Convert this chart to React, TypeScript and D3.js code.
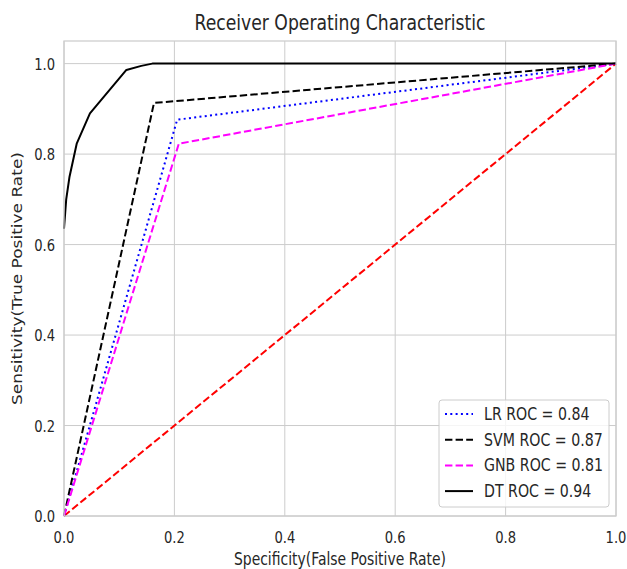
import React, { useEffect, useRef } from "react";
import * as d3 from "d3";

// ROC curves (false positive rate -> true positive rate)
const lrFpr = [0, 0.205, 1];
const lrTpr = [0, 0.876, 1];
const svmFpr = [0, 0.163, 1];
const svmTpr = [0, 0.913, 1];
const gnbFpr = [0, 0.208, 1];
const gnbTpr = [0, 0.823, 1];
const dtFpr = [0, 0.004, 0.01, 0.023, 0.047, 0.113, 0.14, 0.16, 1];
const dtTpr = [0.635, 0.7, 0.75, 0.823, 0.89, 0.986, 0.995, 1, 1];
const refFpr = [0, 1];
const refTpr = [0, 1];

const legendLabels = ["LR ROC = 0.84", "SVM ROC = 0.87", "GNB ROC = 0.81", "DT ROC = 0.94"];
const xTicks = [0, 0.2, 0.4, 0.6, 0.8, 1.0];
const yTicks = [0, 0.2, 0.4, 0.6, 0.8, 1.0];

const W = 627;
const H = 569;
const SX = 0.82; // the picture's text is horizontally squeezed
const FONT = "DejaVu Sans, sans-serif";
const INK = "#262626";

const App = () => {
  const svgRef = useRef<SVGSVGElement>(null);

  useEffect(() => {
    const margin = { top: 41, right: 11, bottom: 53, left: 64 };
    const width = W - margin.left - margin.right;
    const height = H - margin.top - margin.bottom;

    const svg = d3.select(svgRef.current);
    svg.selectAll("*").remove();
    svg.append("rect").attr("width", W).attr("height", H).attr("fill", "#fff");

    const g = svg.append("g").attr("transform", `translate(${margin.left},${margin.top})`);

    const x = d3.scaleLinear().domain([0, 1]).range([0, width]);
    const y = d3.scaleLinear().domain([0, 1.05]).range([height, 0]);

    // text helper: squeezed horizontally like the reference
    const label = (
      parent: any,
      tx: number,
      ty: number,
      text: string,
      size: number,
      anchor: string,
      rotate = 0
    ) =>
      parent
        .append("text")
        .attr("transform", `translate(${tx},${ty}) scale(${SX},1)${rotate ? ` rotate(${rotate})` : ""}`)
        .attr("text-anchor", anchor)
        .attr("font-family", FONT)
        .attr("font-size", size)
        .attr("fill", INK)
        .text(text);

    // grid
    g.append("g")
      .selectAll("line")
      .data(xTicks)
      .join("line")
      .attr("x1", (d) => x(d))
      .attr("x2", (d) => x(d))
      .attr("y1", 0)
      .attr("y2", height)
      .attr("stroke", "#cccccc")
      .attr("stroke-width", 1);
    g.append("g")
      .selectAll("line")
      .data(yTicks)
      .join("line")
      .attr("x1", 0)
      .attr("x2", width)
      .attr("y1", (d) => y(d))
      .attr("y2", (d) => y(d))
      .attr("stroke", "#cccccc")
      .attr("stroke-width", 1);

    // curves
    const series = [
      { fpr: refFpr, tpr: refTpr, color: "#ff0000", dash: "7.4,3.2" },
      { fpr: lrFpr, tpr: lrTpr, color: "#0000ff", dash: "2,3.3" },
      { fpr: svmFpr, tpr: svmTpr, color: "#000000", dash: "7.4,3.2" },
      { fpr: gnbFpr, tpr: gnbTpr, color: "#ff00ff", dash: "7.4,3.2" },
      { fpr: dtFpr, tpr: dtTpr, color: "#000000", dash: null as string | null },
    ];

    svg
      .append("defs")
      .append("clipPath")
      .attr("id", "plot-clip")
      .append("rect")
      .attr("x", -1)
      .attr("y", -1)
      .attr("width", width + 2)
      .attr("height", height + 2);

    const curves = g.append("g").attr("clip-path", "url(#plot-clip)");
    series.forEach((s) => {
      const pts: [number, number][] = s.fpr.map((f, i) => [x(f), y(s.tpr[i])]);
      curves
        .append("path")
        .attr("d", d3.line()(pts))
        .attr("fill", "none")
        .attr("stroke", s.color)
        .attr("stroke-width", 2)
        .attr("stroke-dasharray", s.dash)
        .attr("stroke-linejoin", "round");
    });

    // spines
    g.append("rect")
      .attr("width", width)
      .attr("height", height)
      .attr("fill", "none")
      .attr("stroke", "#cccccc")
      .attr("stroke-width", 1.25);

    // tick labels
    xTicks.forEach((t) => label(g, x(t), height + 27, d3.format(".1f")(t), 16, "middle"));
    yTicks.forEach((t) => label(g, -9, y(t) + 6, d3.format(".1f")(t), 16, "end"));

    // titles
    label(svg, margin.left + width / 2, 30, "Receiver Operating Characteristic", 21, "middle");
    label(svg, margin.left + width / 2, 565, "Specificity(False Positive Rate)", 17, "middle");
    label(svg, 22, margin.top + height / 2, "Sensitivity(True Positive Rate)", 17, "middle", -90);

    // legend
    const legendSeries = series.slice(1);
    const lg = svg.append("g").attr("transform", "translate(439,400)");
    lg.append("rect")
      .attr("width", 170)
      .attr("height", 107)
      .attr("rx", 3)
      .attr("fill", "#ffffff")
      .attr("fill-opacity", 0.8)
      .attr("stroke", "#cccccc")
      .attr("stroke-width", 1);
    legendLabels.forEach((name, i) => {
      const s = legendSeries[i];
      const cy = 14 + i * 25.7;
      lg.append("line")
        .attr("x1", 6)
        .attr("x2", 34)
        .attr("y1", cy)
        .attr("y2", cy)
        .attr("stroke", s.color)
        .attr("stroke-width", 2)
        .attr("stroke-dasharray", s.dash);
      label(lg, 45, cy + 6, name, 17.3, "start");
    });
  }, []);

  return (
    <svg
      ref={svgRef}
      width={W}
      height={H}
      style={{ position: "absolute", left: 0, top: 0 }}
    />
  );
};

export default App;
